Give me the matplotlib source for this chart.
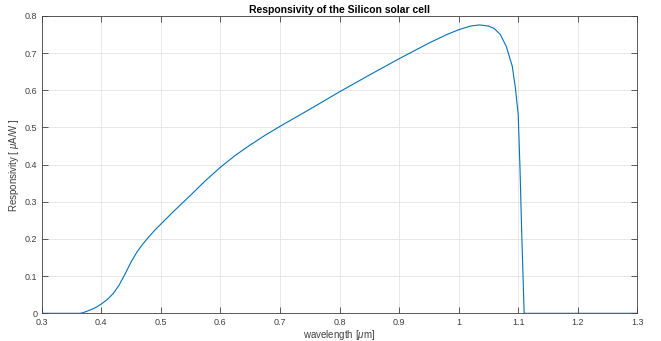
import numpy as np
import matplotlib
matplotlib.use("Agg")
import matplotlib.pyplot as plt

# wavelength [um] and responsivity [uA/W]
wavelength = [0.30, 0.35, 0.365, 0.37, 0.38, 0.39, 0.40, 0.41, 0.42, 0.43,
              0.44, 0.45, 0.46, 0.47, 0.48, 0.49, 0.50, 0.52, 0.55, 0.575,
              0.60, 0.625, 0.65, 0.675, 0.70, 0.75, 0.80, 0.85, 0.90, 0.95,
              0.98, 1.00, 1.02, 1.035, 1.05, 1.06, 1.07, 1.08, 1.09, 1.095,
              1.10, 1.103, 1.106, 1.11, 1.20, 1.30]
responsivity = [0.0, 0.0, 0.0, 0.002, 0.008, 0.015, 0.025, 0.037, 0.053, 0.076,
                0.106, 0.138, 0.165, 0.187, 0.206, 0.224, 0.240, 0.272, 0.318, 0.357,
                0.393, 0.425, 0.453, 0.479, 0.503, 0.549, 0.596, 0.641, 0.685, 0.727,
                0.750, 0.763, 0.773, 0.776, 0.773, 0.766, 0.750, 0.718, 0.665, 0.610,
                0.535, 0.390, 0.210, 0.0, 0.0, 0.0]

xticks = np.round(np.arange(0.3, 1.31, 0.1), 1)
yticks = np.round(np.arange(0, 0.81, 0.1), 1)

plt.rcParams['font.family'] = ['Liberation Sans', 'DejaVu Sans']
plt.rcParams['mathtext.fontset'] = 'custom'
plt.rcParams['mathtext.it'] = 'Liberation Sans:italic'

fig = plt.figure(figsize=(6.61, 3.41), dpi=100)
ax = fig.add_axes([0.0631, 0.0812, 0.9011, 0.8719])

ax.plot(wavelength, responsivity, color='#0072BD', linewidth=0.8)

ax.set_xlim(0.3, 1.3)
ax.set_ylim(0, 0.8)
ax.set_xticks(xticks)
ax.set_yticks(yticks)
ax.set_xticklabels([f"{v:g}" for v in xticks])
ax.set_yticklabels([f"{v:g}" for v in yticks])

ax.grid(True, color='#e3e3e3', linewidth=0.6)
ax.set_axisbelow(True)
for s in ax.spines.values():
    s.set_color('#404040')
    s.set_linewidth(0.6)
ax.tick_params(direction='in', length=4, width=0.6, top=True, right=True,
               labelsize=6.5, colors='#404040')
ax.tick_params(axis='x', pad=3.5)
ax.tick_params(axis='y', pad=3)

ax.set_title('Responsivity of the Silicon solar cell', fontsize=7.5,
             fontweight='bold', pad=2.5)
ax.set_xlabel(r'wavelength [$\mu$m]', fontsize=7, color='#404040', labelpad=0.5)
ax.set_ylabel(r'Responsivity [ $\mu$A/W ]', fontsize=7, color='#404040', labelpad=3)

fig.savefig('out.png', dpi=100)
